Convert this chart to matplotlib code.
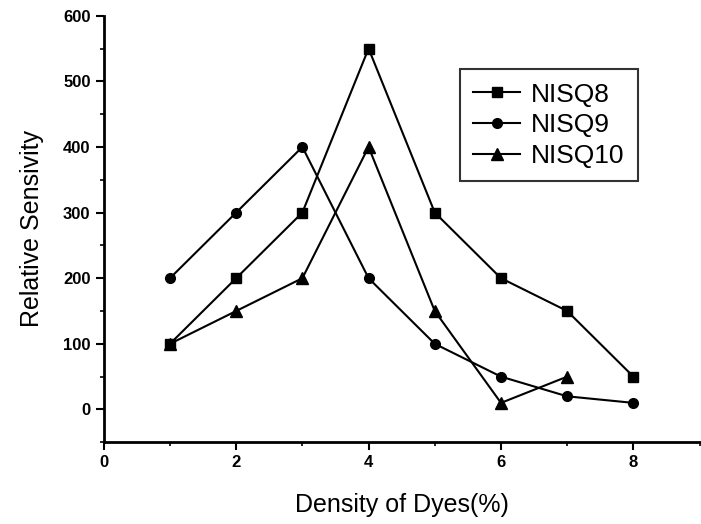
import numpy as np
import matplotlib
matplotlib.use("Agg")
import matplotlib.pyplot as plt
from matplotlib.ticker import MultipleLocator

plt.rcParams['font.family'] = ['Liberation Sans', 'DejaVu Sans']

# datos
x8 = [1, 2, 3, 4, 5, 6, 7, 8]
nisq8 = [100, 200, 300, 550, 300, 200, 150, 50]
x9 = [1, 2, 3, 4, 5, 6, 7, 8]
nisq9 = [200, 300, 400, 200, 100, 50, 20, 10]
x10 = [1, 2, 3, 4, 5, 6, 7]
nisq10 = [100, 150, 200, 400, 150, 10, 50]

fig = plt.figure(figsize=(7.01, 5.24), dpi=100)
ax = fig.add_axes([0.148, 0.156, 0.85, 0.814])

ax.plot(x8, nisq8, color='black', marker='s', markersize=7, linewidth=1.5, label='NISQ8')
ax.plot(x9, nisq9, color='black', marker='o', markersize=7, linewidth=1.5, label='NISQ9')
ax.plot(x10, nisq10, color='black', marker='^', markersize=8, linewidth=1.5, label='NISQ10')

ax.set_xlim(0, 9)
ax.set_ylim(-50, 600)
ax.xaxis.set_major_locator(MultipleLocator(2))
ax.xaxis.set_minor_locator(MultipleLocator(1))
ax.yaxis.set_major_locator(MultipleLocator(100))
ax.yaxis.set_minor_locator(MultipleLocator(50))
ax.set_xticks([0, 2, 4, 6, 8])

for s in ['top', 'right']:
    ax.spines[s].set_visible(False)
for s in ['left', 'bottom']:
    ax.spines[s].set_linewidth(2)

ax.tick_params(which='major', direction='out', length=6, width=1.5, labelsize=12)
ax.tick_params(which='minor', direction='out', length=3, width=1.2)
for lab in ax.get_xticklabels() + ax.get_yticklabels():
    lab.set_fontweight('bold')

ax.set_xlabel('Density of Dyes(%)', fontsize=18, labelpad=16)
ax.set_ylabel('Relative Sensivity', fontsize=18, labelpad=14)

leg = ax.legend(loc='upper left', bbox_to_anchor=(0.575, 0.905), fontsize=19,
                frameon=True, fancybox=False, edgecolor='black',
                handlelength=1.8, handletextpad=0.4, borderpad=0.5, labelspacing=0.25)
leg.get_frame().set_linewidth(1.5)

fig.savefig('out.png', dpi=100)
